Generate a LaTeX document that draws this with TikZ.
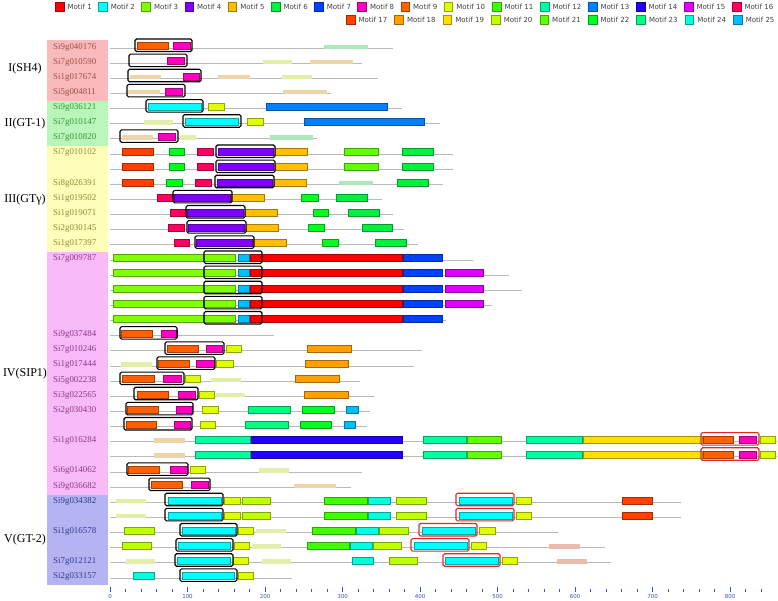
\documentclass[tikz,border=0pt]{standalone}
\usepackage{fontspec}
\setmainfont{Liberation Serif}
\newfontfamily\verd{DejaVu Sans}
\usetikzlibrary{positioning}
\definecolor{m1}{HTML}{FF0000}
\definecolor{m2}{HTML}{00FFFF}
\definecolor{m3}{HTML}{80FF00}
\definecolor{m4}{HTML}{8000FF}
\definecolor{m5}{HTML}{FFBF00}
\definecolor{m6}{HTML}{00F040}
\definecolor{m7}{HTML}{0040FF}
\definecolor{m8}{HTML}{FF00C0}
\definecolor{m9}{HTML}{FF6000}
\definecolor{m10}{HTML}{DFFF00}
\definecolor{m11}{HTML}{40FF00}
\definecolor{m12}{HTML}{00FFA0}
\definecolor{m13}{HTML}{0080FF}
\definecolor{m14}{HTML}{2000FF}
\definecolor{m15}{HTML}{DF00FF}
\definecolor{m16}{HTML}{FF0060}
\definecolor{m17}{HTML}{FF4000}
\definecolor{m18}{HTML}{FF9F00}
\definecolor{m19}{HTML}{FFDF00}
\definecolor{m20}{HTML}{BFFF00}
\definecolor{m21}{HTML}{60FF00}
\definecolor{m22}{HTML}{00FF20}
\definecolor{m23}{HTML}{00FF80}
\definecolor{m24}{HTML}{00FFDF}
\definecolor{m25}{HTML}{00BFFF}
\definecolor{bgI}{HTML}{F8BABA}
\definecolor{bgII}{HTML}{BAF5BA}
\definecolor{bgIII}{HTML}{FFFFBA}
\definecolor{bgIV}{HTML}{F8BAF8}
\definecolor{bgV}{HTML}{B4B4F2}
\definecolor{tI}{HTML}{A84C48}
\definecolor{tII}{HTML}{3A963A}
\definecolor{tIII}{HTML}{8A8A3E}
\definecolor{tIV}{HTML}{8A3A8A}
\definecolor{tV}{HTML}{303A8A}
\definecolor{boxred}{HTML}{E02828}
\definecolor{axblue}{HTML}{3355CC}

\begin{document}
\begin{tikzpicture}[x=1pt,y=-1pt,
  mot/.style={fill=#1,draw=#1!65!black,line width=0.35pt},
  faint/.style={fill=#1!28!white!93!black},
  hit/.style={draw=black,line width=1.1pt,rounded corners=1.5pt},
  hitr/.style={draw=boxred,line width=1.1pt,rounded corners=1.5pt},
  bb/.style={draw=gray!55,line width=0.8pt},
  gene/.style={anchor=west,inner sep=0pt,font=\fontsize{8.9}{9}\selectfont},
  grp/.style={inner sep=0pt,font=\fontsize{12}{13}\selectfont},
  keysq/.style={draw=#1!65!black,fill=#1,minimum size=8.5pt,inner sep=0pt,anchor=west},
  keytxt/.style={inner sep=0pt,text=black!75,font=\verd\fontsize{7}{8}\selectfont},
  tk/.style={draw=axblue,line width=0.6pt},
  axl/.style={inner sep=0pt,text=axblue,font=\verd\fontsize{5.5}{6}\selectfont}]
\useasboundingbox (0,0) rectangle (778,600);
\foreach \ra/\rb/\col in {0/4/bgI,4/7/bgII,7/14/bgIII,14/30/bgIV,30/36/bgV}
  \fill[\col] (47,{48+15.14*\ra-7.57}) rectangle (108,{48+15.14*\rb-7.57});
\node[grp] (gI) at (25,69) {I(SH4)};
\node[grp] (gII) at (25,123.7) {II(GT-1)};
\node[grp] (gIII) at (25,199.4) {III(GTγ)};
\node[grp] (gIV) at (25,373.5) {IV(SIP1)};
\node[grp] (gV) at (25,540) {V(GT-2)};
\foreach \r/\nm/\col in {0/Si9g040176/tI,1/Si7g010590/tI,2/Si1g017674/tI,3/Si5g004811/tI,
  4/Si9g036121/tII,5/Si7g010147/tII,6/Si7g010820/tII,
  7/Si7g010102/tIII,9/Si8g026391/tIII,10/Si1g019502/tIII,11/Si1g019071/tIII,12/Si2g030145/tIII,13/Si1g017397/tIII,
  14/Si7g009787/tIV,19/Si9g037484/tIV,20/Si7g010246/tIV,21/Si1g017444/tIV,22/Si5g002238/tIV,23/Si3g022565/tIV,
  24/Si2g030430/tIV,26/Si1g016284/tIV,28/Si6g014062/tIV,29/Si9g036682/tIV,
  30/Si9g034382/tV,32/Si1g016578/tV,34/Si7g012121/tV,35/Si2g033157/tV}
  \node[gene,text=\col] (n\r) at (53,{48+15.14*\r-1}) {\nm};
\foreach \r/\xe in {0/393,1/362,2/378,3/331,4/402,5/440,6/317,7/453,8/453,9/443,10/382,11/393,12/404,13/418,
  14/473,15/509,16/522,17/492,18/446,19/274,20/422,21/414,22/360,23/374,24/370,25/367,26/777,27/777,
  28/362,29/351,30/681,31/681,32/558,33/605,34/611,35/292}
  \draw[bb] (110,{48+15.14*\r}) -- (\xe,{48+15.14*\r});
\foreach \r/\xa/\xb/\col in {0/324/368/m6,1/263/292/m10,1/310/353/m18,2/130/161/m18,2/218/250/m18,2/282/312/m10,
  3/128/160/m18,3/283/327/m18,5/144/173/m10,6/122/153/m18,6/180/196/m10,6/270/313/m6,9/339/373/m6,
  21/121/152/m10,22/211/241/m10,23/216/245/m10,26/154/185/m18,27/154/185/m18,28/259/289/m10,29/294/336/m18,
  30/116/146/m10,31/116/146/m10,32/256/286/m10,33/252/281/m10,33/549/580/m17,34/126/155/m10,34/262/291/m10,34/557/587/m17}
  \fill[faint=\col] (\xa,{48+15.14*\r-3.5}) rectangle (\xb,{48+15.14*\r+1});
\foreach \r/\xa/\xb/\col in {0/137/168/m9,0/173/190/m8,1/167/184/m8,2/183/199/m8,3/165/182/m8,
  4/148/201/m2,4/208/224/m10,4/266/387/m13,5/185/238/m2,5/247/263/m10,5/304/424/m13,6/158/175/m8,
  7/122/153/m17,7/169/184/m22,7/197/213/m16,7/218/273/m4,7/275/307/m5,7/344/378/m21,7/402/433/m6,
  8/122/153/m17,8/169/184/m22,8/197/213/m16,8/218/273/m4,8/275/307/m5,8/344/378/m21,8/402/433/m6,
  9/122/153/m17,9/166/182/m22,9/195/211/m16,9/217/272/m4,9/274/306/m5,9/397/428/m6,
  10/157/173/m16,10/174/230/m4,10/231/264/m5,10/301/318/m22,10/336/367/m6,
  11/170/186/m16,11/187/243/m4,11/245/277/m5,11/313/328/m22,11/348/379/m6,
  12/168/184/m16,12/188/244/m4,12/246/278/m5,12/308/324/m22,12/362/392/m6,
  13/174/189/m16,13/196/252/m4,13/253/286/m5,13/322/338/m22,13/375/406/m6,
  19/121/152/m9,19/161/177/m8,20/167/198/m9,20/206/222/m8,20/226/241/m10,20/307/351/m18,
  21/158/189/m9,21/196/214/m8,21/216/233/m10,21/305/348/m18,22/122/154/m9,22/163/181/m8,22/185/200/m10,22/295/339/m18,
  23/137/168/m9,23/178/195/m8,23/199/214/m10,23/304/348/m18,
  24/127/158/m9,24/176/192/m8,24/202/218/m10,24/248/290/m23,24/302/334/m22,24/346/358/m25,
  25/126/156/m9,25/174/190/m8,25/200/215/m10,25/245/288/m23,25/300/331/m22,25/344/355/m25,
  28/128/159/m9,28/170/187/m8,28/190/205/m10,29/151/182/m9,29/191/208/m8,
  32/124/154/m20,32/182/235/m2,32/238/253/m10,32/312/355/m11,32/356/378/m24,32/379/408/m20,32/422/475/m2,32/479/495/m10,
  33/122/151/m20,33/178/230/m2,33/234/249/m10,33/307/349/m11,33/350/372/m24,33/373/401/m20,33/414/467/m2,33/471/486/m10,
  34/177/230/m2,34/233/248/m10,34/352/373/m24,34/389/417/m20,34/445/498/m2,34/502/517/m10,
  35/133/154/m24,35/182/234/m2,35/238/253/m10}
  \draw[mot=\col] (\xa,{48+15.14*\r-5.5}) rectangle (\xb,{48+15.14*\r+1.5});
\foreach \r in {14,...,18}
  \foreach \xa/\xb/\col in {113/203/m3,204/235/m3,238/249/m25,250/402/m1,403/442/m7}
    \draw[mot=\col] (\xa,{48+15.14*\r-5.5}) rectangle (\xb,{48+15.14*\r+1.5});
\foreach \r in {15,16,17}
  \draw[mot=m15] (445,{48+15.14*\r-5.5}) rectangle (483,{48+15.14*\r+1.5});
\foreach \r in {26,27}
  \foreach \xa/\xb/\col in {195/250/m12,251/402/m14,423/466/m12,467/501/m21,526/582/m12,583/702/m19,703/733/m9,739/756/m8,760/775/m10}
    \draw[mot=\col] (\xa,{48+15.14*\r-5.5}) rectangle (\xb,{48+15.14*\r+1.5});
\foreach \r in {30,31}
  \foreach \xa/\xb/\col in {168/221/m2,224/240/m10,242/270/m20,324/367/m11,368/390/m24,396/426/m20,459/512/m2,516/531/m10,622/652/m17}
    \draw[mot=\col] (\xa,{48+15.14*\r-5.5}) rectangle (\xb,{48+15.14*\r+1.5});
\foreach \r/\xa/\xb in {0/135/192,1/129/187,2/128/201,3/127/185,4/146/203,5/183/241,6/120/178,
  7/216/275,8/216/275,9/215/274,10/173/232,11/186/245,12/187/246,13/195/254,
  14/204/262,15/204/262,16/204/262,17/204/262,18/204/262,
  19/120/177,20/165/224,21/157/215,22/120/184,23/134/198,24/126/193,25/124/192,28/127/188,29/149/210,
  30/165/223,31/165/223,32/180/237,33/176/233,34/175/233,35/180/237}
  \draw[hit] (\xa,{48+15.14*\r-9}) rectangle (\xb,{48+15.14*\r+3.5});
\foreach \r/\xa/\xb in {26/701/759,27/701/759,30/456/514,31/456/514,32/419/477,33/411/469,34/443/500}
  \draw[hitr] (\xa,{48+15.14*\r-9}) rectangle (\xb,{48+15.14*\r+3.5});
\foreach \i in {1,...,16}{
  \pgfmathsetmacro\kx{\i<11 ? 55+43.2*(\i-1) : 444+48*(\i-10)}
  \node[keysq=m\i] (s\i) at (\kx,6.5) {};
  \node[keytxt,right=3.5pt of s\i] (k\i) {Motif \i};
}
\foreach \i in {17,...,25}{
  \pgfmathsetmacro\kx{346+48.4*(\i-17)}
  \node[keysq=m\i] (s\i) at (\kx,19.5) {};
  \node[keytxt,right=3.5pt of s\i] (k\i) {Motif \i};
}
\foreach \v in {0,20,...,840}
  \draw[tk] ({110+0.775*\v},589) -- ++(0,2.5);
\foreach \v in {0,100,...,800}{
  \draw[tk] ({110+0.775*\v},587) -- ++(0,4.5);
  \node[axl] (a\v) at ({110+0.775*\v},596.5) {\v};
}
\end{tikzpicture}
\end{document}
